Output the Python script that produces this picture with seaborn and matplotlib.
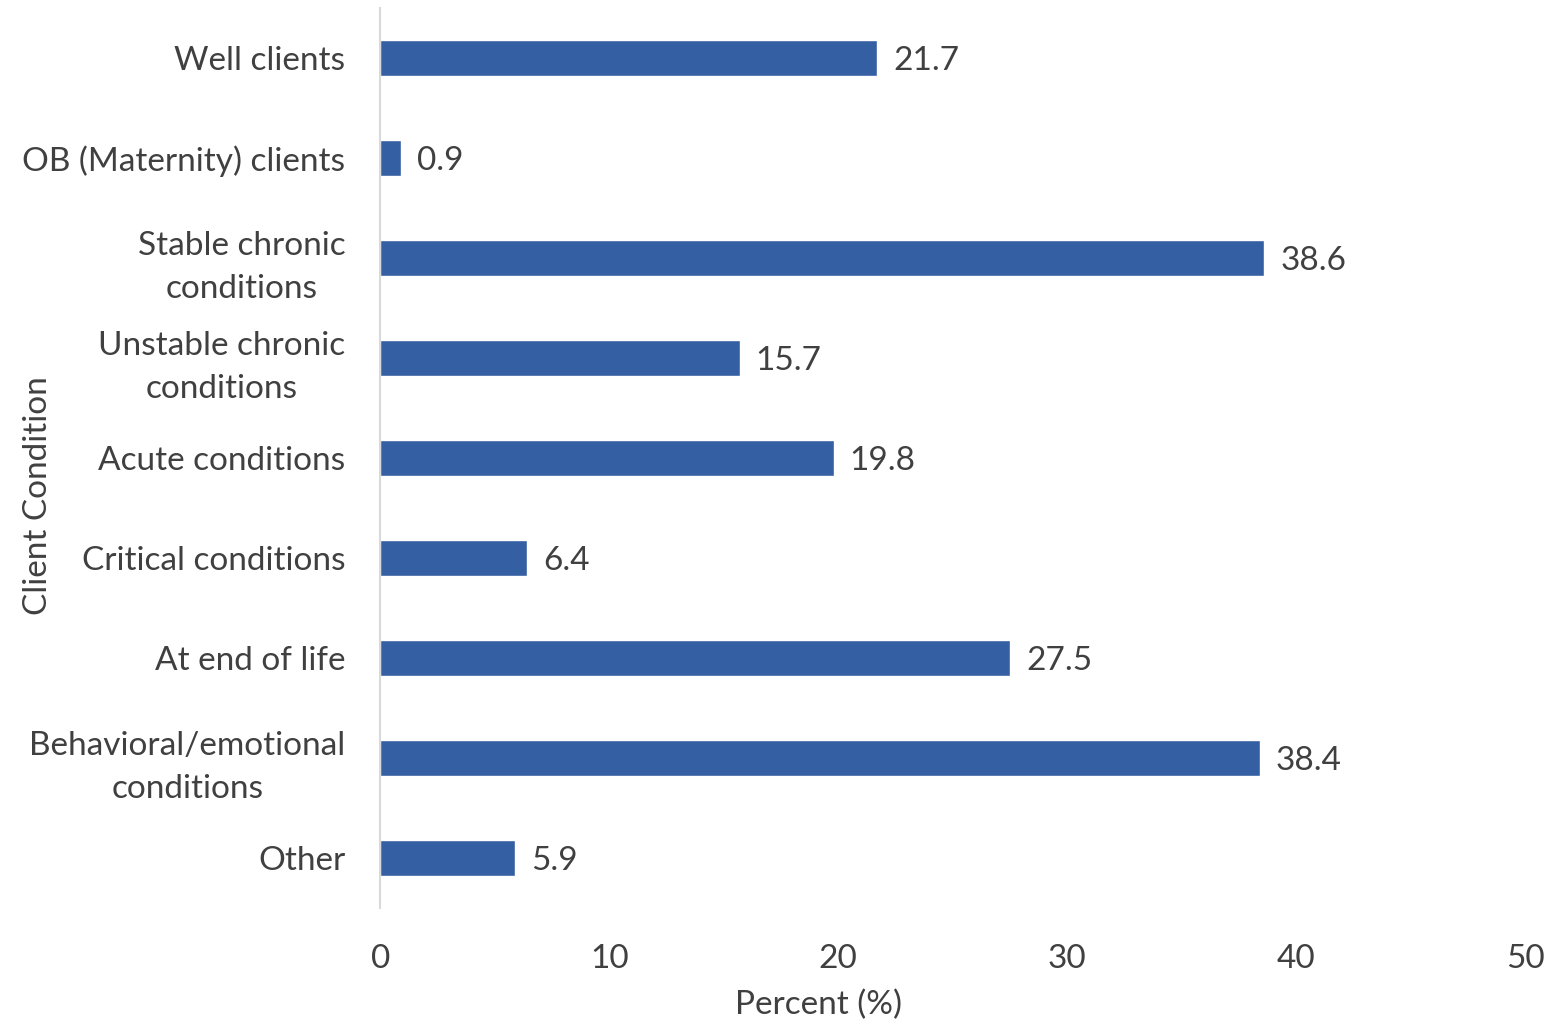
import matplotlib
matplotlib.use('Agg')
import matplotlib.pyplot as plt
import seaborn as sb
import pandas as pd

# data
conditions = ['Well clients', 'OB (Maternity) clients', 'Stable chronic\nconditions',
              'Unstable chronic\nconditions', 'Acute conditions', 'Critical conditions',
              'At end of life', 'Behavioral/emotional\nconditions', 'Other']
percent = [21.7, 0.9, 38.6, 15.7, 19.8, 6.4, 27.5, 38.4, 5.9]
x_ticks = [0, 10, 20, 30, 40, 50]

df = pd.DataFrame({'Condition': conditions, 'Percent': percent})

sb.set_style('white')
plt.rcParams['font.family'] = ['Lato', 'DejaVu Sans']
txt = '#404040'
fs = 24

fig = plt.figure(figsize=(15.58, 10.24), dpi=100)
ax = fig.add_axes([0.244, 0.113, 0.735, 0.879])

sb.barplot(data=df, x='Percent', y='Condition', color='#355FA3', width=0.36,
           saturation=1, ax=ax)

for i, v in enumerate(percent):
    ax.text(v + 0.7, i, f'{v}', va='center_baseline', ha='left', fontsize=fs, color=txt)

ax.set_xlim(0, 50)
ax.set_ylim(8.5, -0.5)
ax.set_xticks(x_ticks)
ax.set_xticklabels([str(t) for t in x_ticks])
ax.tick_params(axis='both', length=0, labelsize=fs, labelcolor=txt)
ax.tick_params(axis='x', pad=26)
ax.tick_params(axis='y', pad=25)
for lbl in ax.get_yticklabels():
    lbl.set_multialignment('center')
    lbl.set_linespacing(1.55)

for s in ['top', 'right', 'bottom']:
    ax.spines[s].set_visible(False)
ax.spines['left'].set_color('#d9d9d9')
ax.spines['left'].set_linewidth(1.5)

ax.set_xlabel('Percent (%)', fontsize=fs, color=txt)
ax.xaxis.set_label_coords(0.383, -0.09)
ax.set_ylabel('Client Condition', fontsize=fs, color=txt)
ax.yaxis.set_label_coords(-0.286, 0.459)

fig.savefig('out.png', dpi=100)
